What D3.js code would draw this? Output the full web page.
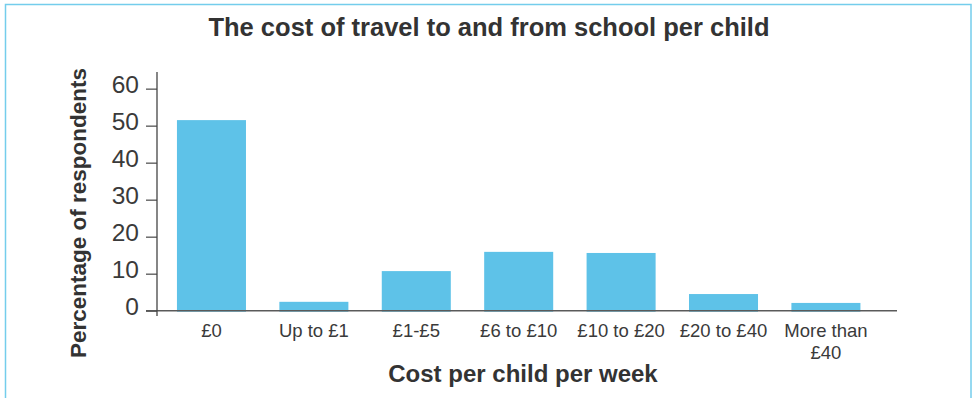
<!DOCTYPE html>
<html>
<head>
<meta charset="utf-8">
<script src="https://cdn.jsdelivr.net/npm/d3@7"></script>
<style>
  html, body { margin: 0; padding: 0; background: #fff; }
  svg { display: block; font-family: "Liberation Sans", Arial, Helvetica, sans-serif; }
</style>
</head>
<body>
<svg id="chart" width="977" height="398"></svg>
<script>
// Weekly travel cost per child, share of respondents (%)
const categories = ["£0", "Up to £1", "£1-£5", "£6 to £10", "£10 to £20", "£20 to £40", "More than £40"];
const shares = [51.5, 2.4, 10.7, 15.9, 15.6, 4.5, 2.1];
const yTicks = [0, 10, 20, 30, 40, 50, 60];
// Label lines (long labels wrap)
const categoryLines = [["£0"], ["Up to £1"], ["£1-£5"], ["£6 to £10"], ["£10 to £20"], ["£20 to £40"], ["More than", "£40"]];

const svg = d3.select("#chart");

// Outer frame
svg.append("rect")
  .attr("x", 5.5).attr("y", 4.5)
  .attr("width", 965.5).attr("height", 410)
  .attr("fill", "none")
  .attr("stroke", "#74cdec")
  .attr("stroke-width", 1.5);

const x = d3.scaleBand()
  .domain(categories)
  .range([157, 897])
  .paddingInner(0.326)
  .paddingOuter(0.276)
  .align(0.353);

const y = d3.scaleLinear()
  .domain([0, 64.5])
  .range([310.7, 72]);

// Bars
svg.append("g")
  .selectAll("rect")
  .data(categories)
  .join("rect")
  .attr("x", d => x(d))
  .attr("width", x.bandwidth())
  .attr("y", (d, i) => y(shares[i]))
  .attr("height", (d, i) => y(0) - y(shares[i]) + 1)
  .attr("fill", "#5ec2e8");

// X axis baseline
svg.append("line")
  .attr("x1", 146).attr("x2", x.range()[1])
  .attr("y1", y(0)).attr("y2", y(0))
  .attr("stroke", "#5a5a5a")
  .attr("stroke-width", 1.6);

// Y axis
const yAxis = d3.axisLeft(y)
  .tickValues(yTicks)
  .tickSize(11)
  .tickPadding(7)
  .tickFormat(d3.format("d"));

const gy = svg.append("g")
  .attr("transform", `translate(157,0)`)
  .call(yAxis);
gy.select(".domain").remove();
gy.selectAll(".tick line").attr("stroke", "#555").attr("stroke-width", 1.3);
gy.selectAll(".tick text")
  .attr("fill", "#3a3a3a")
  .attr("font-size", 24.5)
  .attr("dy", "0.15em");

svg.append("line")
  .attr("x1", 157).attr("x2", 157)
  .attr("y1", 72).attr("y2", 316)
  .attr("stroke", "#444")
  .attr("stroke-width", 1.3);

// X tick labels
const gx = svg.append("g");
categories.forEach((c, i) => {
  const cx = x(c) + x.bandwidth() / 2;
  const t = gx.append("text")
    .attr("x", cx)
    .attr("y", 337)
    .attr("text-anchor", "middle")
    .attr("font-size", 18.5)
    .attr("fill", "#3a3a3a");
  categoryLines[i].forEach((line, j) => {
    t.append("tspan")
      .attr("x", cx)
      .attr("dy", j === 0 ? 0 : 21.5)
      .text(line);
  });
});

// Title
svg.append("text")
  .attr("x", 489).attr("y", 36)
  .attr("text-anchor", "middle")
  .attr("font-size", 25.5)
  .attr("font-weight", "bold")
  .attr("fill", "#333")
  .text("The cost of travel to and from school per child");

// Axis titles
svg.append("text")
  .attr("x", 523).attr("y", 382)
  .attr("text-anchor", "middle")
  .attr("font-size", 24)
  .attr("font-weight", "bold")
  .attr("fill", "#333")
  .text("Cost per child per week");

svg.append("text")
  .attr("transform", "translate(86,213) rotate(-90)")
  .attr("text-anchor", "middle")
  .attr("font-size", 22.5)
  .attr("font-weight", "bold")
  .attr("fill", "#333")
  .text("Percentage of respondents");
</script>
</body>
</html>
